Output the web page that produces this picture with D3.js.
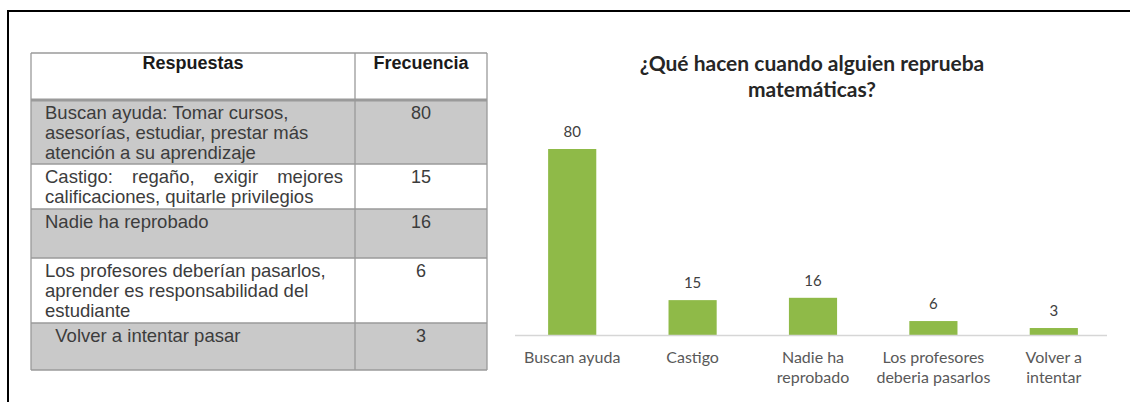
<!DOCTYPE html>
<html>
<head>
<meta charset="utf-8">
<script src="https://cdn.jsdelivr.net/npm/d3@7"></script>
<style>
  body { margin: 0; background: #fff; }
  svg { display: block; }
</style>
</head>
<body>
<div class="graphContainer"></div>
<script>
// table data
var encabezados = ["Respuestas", "Frecuencia"];
var respuestas = [
  ["Buscan ayuda: Tomar cursos,", "asesorías, estudiar, prestar más", "atención a su aprendizaje"],
  ["Castigo: regaño, exigir mejores", "calificaciones, quitarle privilegios"],
  ["Nadie ha reprobado"],
  ["Los profesores deberían pasarlos,", "aprender es responsabilidad del", "estudiante"],
  ["  Volver a intentar pasar"]
];
var frecuencias = [80, 15, 16, 6, 3];

// chart data
var titulo = ["¿Qué hacen cuando alguien reprueba", "matemáticas?"];
var categorias = ["Buscan ayuda", "Castigo", "Nadie ha reprobado", "Los profesores deberia pasarlos", "Volver a intentar"];
var etiquetas = [["Buscan ayuda"], ["Castigo"], ["Nadie ha", "reprobado"], ["Los profesores", "deberia pasarlos"], ["Volver a", "intentar"]];
var valores = [80, 15, 16, 6, 3];

var width = 1130;
var height = 402;

var svg = d3
  .select(".graphContainer")
  .append("svg")
  .attr("width", width)
  .attr("height", height);

// black frame (left + top)
svg.append("path")
  .attr("d", "M8,402 V11 H1130")
  .attr("fill", "none")
  .attr("stroke", "#000")
  .attr("stroke-width", 2);

// ---------- table ----------
var tx0 = 31, tx1 = 355, tx2 = 487;
var rowH = [47, 64, 45, 49, 65, 47];
var rowY = [53];
rowH.forEach((h, i) => rowY.push(rowY[i] + h));

var table = svg.append("g").attr("id", "tabla");

// row backgrounds
table.selectAll("rect.fila")
  .data(frecuencias)
  .enter()
  .append("rect")
  .attr("class", "fila")
  .attr("x", tx0)
  .attr("y", (d, i) => rowY[i + 1])
  .attr("width", tx2 - tx0)
  .attr("height", (d, i) => rowH[i + 1])
  .attr("fill", (d, i) => (i % 2 == 0 ? "#c9c9c9" : "#fff"));

// horizontal rules
table.selectAll("line.hr")
  .data(rowY)
  .enter()
  .append("line")
  .attr("class", "hr")
  .attr("x1", tx0)
  .attr("x2", tx2)
  .attr("y1", (d) => d)
  .attr("y2", (d) => d)
  .attr("stroke", "#9a9a9a")
  .attr("stroke-width", (d, i) => (i == 1 ? 3 : 1.3));

[tx0, tx1, tx2].forEach(function (x) {
  table.append("line")
    .attr("x1", x).attr("x2", x)
    .attr("y1", rowY[0]).attr("y2", rowY[rowY.length - 1])
    .attr("stroke", "#9a9a9a")
    .attr("stroke-width", 1.3);
});

// header
table.selectAll("text.enc")
  .data(encabezados)
  .enter()
  .append("text")
  .attr("class", "enc")
  .attr("x", (d, i) => (i == 0 ? (tx0 + tx1) / 2 : (tx1 + tx2) / 2))
  .attr("y", rowY[0] + 16)
  .attr("text-anchor", "middle")
  .style("font-family", "'Liberation Sans', Arial, sans-serif")
  .style("font-weight", "bold")
  .style("font-size", "18px")
  .style("fill", "#1a1a1a")
  .text((d) => d);

// responses
respuestas.forEach(function (lineas, i) {
  var t = table.append("text")
    .attr("x", 45)
    .attr("y", rowY[i + 1] + 19)
    .style("font-family", "'Liberation Sans', Arial, sans-serif")
    .style("font-size", "18.5px")
    .style("fill", "#3c3c3c")
    .style("white-space", "pre");
  lineas.forEach(function (l, j) {
    t.append("tspan")
      .attr("x", 45)
      .attr("dy", j == 0 ? 0 : 20)
      .text(l);
  });
});

// justified first line of "Castigo"
var just = table.selectAll("text").filter((d, i, n) => n[i].textContent.startsWith("Castigo")).select("tspan");
var natural = just.node().getComputedTextLength();
var espacios = just.text().split(" ").length - 1;
just.style("word-spacing", (343 - 45 - natural) / espacios + "px");

// frequencies
table.selectAll("text.frec")
  .data(frecuencias)
  .enter()
  .append("text")
  .attr("class", "frec")
  .attr("x", (tx1 + tx2) / 2)
  .attr("y", (d, i) => rowY[i + 1] + 19)
  .attr("text-anchor", "middle")
  .style("font-family", "'Liberation Sans', Arial, sans-serif")
  .style("font-size", "18px")
  .style("fill", "#3c3c3c")
  .text((d) => d);

// ---------- bar chart ----------
var baseY = 335;

var xScale = d3
  .scaleBand()
  .domain(categorias)
  .range([512, 1114])
  .paddingInner(0.6)
  .paddingOuter(0.3);

var yScale = d3.scaleLinear().domain([0, 80]).range([baseY, 149]);

var chart = svg.append("g").attr("id", "grafica");

// title
chart.selectAll("text.titulo")
  .data(titulo)
  .enter()
  .append("text")
  .attr("class", "titulo")
  .attr("x", 812)
  .attr("y", (d, i) => 71 + i * 26)
  .attr("text-anchor", "middle")
  .style("font-family", "Lato, 'Open Sans', sans-serif")
  .style("font-weight", "bold")
  .style("font-size", "21px")
  .style("fill", "#262626")
  .text((d) => d);

chart.selectAll("rect.bar")
  .data(valores)
  .enter()
  .append("rect")
  .attr("class", "bar")
  .attr("x", (d, i) => xScale(categorias[i]))
  .attr("y", (d) => yScale(d))
  .attr("width", xScale.bandwidth())
  .attr("height", (d) => baseY - yScale(d))
  .attr("fill", "#8fba48");

// x axis
var xAxis = d3.axisBottom(xScale).tickSize(0).tickPadding(0);
var xAxisGroup = chart.append("g")
  .attr("id", "x-axis")
  .attr("transform", "translate(0," + baseY + ")")
  .call(xAxis);

xAxisGroup.select(".domain")
  .attr("stroke", "#d6d6d6")
  .attr("stroke-width", 1.5)
  .attr("d", "M515,0.5H1107");

xAxisGroup.selectAll(".tick text").each(function (d, i) {
  var t = d3.select(this);
  t.text(null)
    .attr("y", 0)
    .attr("dy", null)
    .style("font-family", "Lato, 'Open Sans', sans-serif")
    .style("font-size", "16px")
    .style("fill", "#595959");
  etiquetas[i].forEach(function (l, j) {
    t.append("tspan")
      .attr("x", 0)
      .attr("y", 28 + j * 20)
      .text(l);
  });
});

// value labels
chart.selectAll("text.valor")
  .data(valores)
  .enter()
  .append("text")
  .attr("class", "valor")
  .attr("x", (d, i) => xScale(categorias[i]) + xScale.bandwidth() / 2)
  .attr("y", (d) => yScale(d) - 12)
  .attr("text-anchor", "middle")
  .style("font-family", "Lato, 'Open Sans', sans-serif")
  .style("font-size", "15px")
  .style("fill", "#404040")
  .text((d) => d);
</script>
</body>
</html>
